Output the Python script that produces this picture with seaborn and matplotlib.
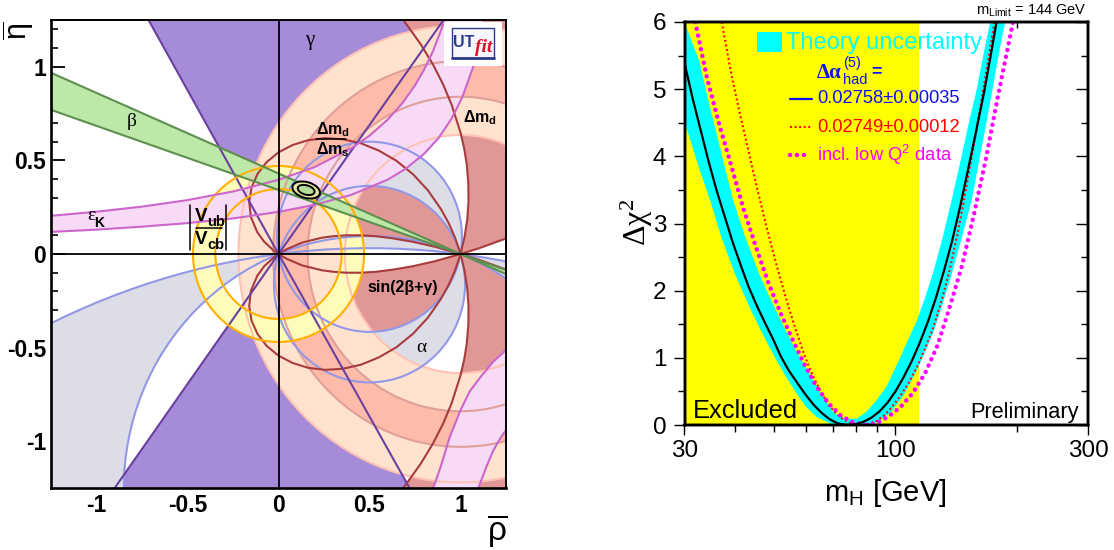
import matplotlib
matplotlib.use('Agg')
import matplotlib.pyplot as plt
import seaborn as sns
from matplotlib.lines import Line2D
from matplotlib.patches import Ellipse, PathPatch, Rectangle
from matplotlib.path import Path
from matplotlib.transforms import Affine2D

W, H = 1114, 550

# left panel, circles: centre rho, centre eta, radius
vub_circles = [(0, 0, 0.47), (0, 0, 0.347)]
dmd_circles = [(1, 0, 1.22), (1, 0, 0.636)]
dms_circles = [(1, 0, 1.03), (1, 0, 0.84)]
alpha_inner = [(0.5, 0.092, 0.508), (0.5, -0.161, 0.525)]
alpha_outer = [(0.5, -1.254, 1.35), (0.5, -3.986, 4.017)]

beta_rho = [-1.25, 1.0, 1.25]
beta_upper = [0.968, 0.0, -0.107]
beta_lower = [0.77, 0.0, -0.086]

gamma_top_rho = [-0.714, 0.0, 0.907]
gamma_top_eta = [1.25, 0.0, 1.25]
gamma_bot_rho = [-0.9, 0.0, 0.72]
gamma_bot_eta = [-1.25, 0.0, -1.25]

eps_up_rho = [-1.25, -1, -0.75, -0.5, -0.25, 0, 0.2, 0.4, 0.5, 0.6, 0.68, 0.75, 0.8, 0.85, 0.91, 0.93]
eps_up_eta = [0.204, 0.226, 0.253, 0.288, 0.334, 0.396, 0.465, 0.565, 0.632, 0.718, 0.805, 0.901, 0.985, 1.086, 1.239, 1.3]
eps_lo_rho = [-1.25, -1, -0.75, -0.5, -0.25, 0, 0.2, 0.4, 0.6, 0.7, 0.8, 0.88, 0.95, 1.01, 1.07, 1.13]
eps_lo_eta = [0.118, 0.13, 0.146, 0.165, 0.19, 0.225, 0.263, 0.316, 0.397, 0.456, 0.535, 0.62, 0.721, 0.838, 1.0, 1.24]
eps_br_out_rho = [0.85, 0.89, 0.94, 1.0, 1.05, 1.11, 1.18, 1.25]
eps_br_out_eta = [-1.25, -1.14, -0.98, -0.834, -0.735, -0.657, -0.575, -0.513]
eps_br_in_rho = [1.25, 1.215, 1.18, 1.145, 1.11, 1.09]
eps_br_in_eta = [-0.94, -0.99, -1.05, -1.13, -1.22, -1.27]

# sin(2beta+gamma) curves, upper half; the lower half is the mirror image
heart_rho = [0, -0.026, -0.079, -0.117, -0.152, -0.161, -0.148, -0.115, -0.065, 0, 0.077, 0.163,
             0.256, 0.354, 0.454, 0.552, 0.648, 0.739, 0.821, 0.893, 0.935, 0.971, 1]
heart_eta = [0, 0.018, 0.066, 0.117, 0.198, 0.279, 0.356, 0.428, 0.491, 0.543, 0.582, 0.608,
             0.619, 0.613, 0.591, 0.552, 0.498, 0.426, 0.34, 0.239, 0.165, 0.085, 0]
low_rho = [0, 0.043, 0.13, 0.238, 0.302, 0.372, 0.449, 0.536, 0.632, 0.74, 0.862, 1]
low_eta = [0, 0.025, 0.061, 0.087, 0.095, 0.1, 0.1, 0.095, 0.083, 0.065, 0.038, 0]
wing_rho = [1, 1.1, 1.192, 1.264]
wing_eta = [0, 0.03, 0.0625, 0.088]
big_rho = [1, 1.022, 1.037, 1.044, 1.043, 1.034, 1.02, 1, 0.951, 0.905, 0.849, 0.783, 0.706, 0.67]
big_eta = [0, 0.089, 0.183, 0.28, 0.38, 0.482, 0.565, 0.649, 0.798, 0.905, 1.012, 1.118, 1.223, 1.27]

fit_center = (0.152, 0.342)
fit_widths = [0.155, 0.095]
fit_heights = [0.085, 0.05]

rho_major = [-1, -0.5, 0, 0.5, 1]
rho_labels = ['-1', '-0.5', '0', '0.5', '1']
rho_minor = [-1.2, -1.1, -0.9, -0.8, -0.7, -0.6, -0.4, -0.3, -0.2, -0.1,
             0.1, 0.2, 0.3, 0.4, 0.6, 0.7, 0.8, 0.9, 1.1, 1.2]

# right panel
limit_mass = 114.4
black_m = [30, 31.4, 32.9, 34.4, 36, 37.8, 39.5, 41.4, 43.3, 45.3, 47.5, 49.8, 52, 54.4, 57.2, 59.9, 62.7, 65.6, 68.7, 71.9, 75.8,
           79.4, 83.2, 87.1, 91.2, 95.5, 100, 104.7, 109.7, 114.8, 120.2, 125.9, 131.8, 138, 144.6, 151.4, 158.5, 166, 173.8, 178]
black_chi = [5.39, 4.87, 4.39, 3.93, 3.5, 3.09, 2.72, 2.37, 2.05, 1.78, 1.52, 1.27, 1.02, 0.81, 0.62, 0.45, 0.3, 0.18, 0.085, 0.024, 0,
             0.01, 0.046, 0.108, 0.2, 0.33, 0.5, 0.71, 0.95, 1.22, 1.53, 1.89, 2.29, 2.73, 3.25, 3.81, 4.38, 4.97, 5.64, 6]
red_m = [37.1, 39.2, 41, 43, 45, 47.1, 49.3, 51.6, 54, 56.6, 59.3, 62.1, 65, 68.1, 71.3, 74.7, 78.3, 82,
         85.8, 89.8, 94, 98.4, 103, 107.9, 113, 118.3, 123.9, 129.7, 135.8, 142.2, 148.9, 155.9, 163.2, 176]
red_chi = [6, 5.22, 4.68, 4.14, 3.62, 3.13, 2.66, 2.22, 1.81, 1.42, 1.06, 0.76, 0.52, 0.31, 0.17, 0.07, 0.02, 0,
           0.015, 0.06, 0.15, 0.28, 0.44, 0.63, 0.86, 1.13, 1.44, 1.82, 2.27, 2.82, 3.45, 4.12, 4.82, 6]
pink_m = [31.9, 34.1, 36.6, 39.3, 42, 45.1, 48.4, 51.8, 55.5, 59.5, 63.6, 68.3, 73.2, 78.4, 84,
          90, 96.3, 103.2, 110.5, 118.4, 127, 136, 146, 156.3, 167.5, 179.5, 195.6]
pink_chi = [6, 5.17, 4.47, 3.83, 3.22, 2.65, 2.12, 1.68, 1.28, 0.9, 0.58, 0.32, 0.14, 0.04, 0,
            0.03, 0.13, 0.275, 0.48, 0.77, 1.18, 1.74, 2.36, 3.12, 3.96, 4.9, 6]
band_top_m = [30, 32.7, 34.4, 36, 37.8, 39.6, 42.4, 45.6, 47.5, 50.8, 53.3, 56.4, 59.9, 62.5, 65.6, 70, 72.5, 75, 80,
              84.8, 89.5, 95, 102.6, 107.5, 112.9, 118, 124, 131, 137.8, 145.8, 152, 159, 165, 171.6]
band_top_chi = [6, 5.4, 4.82, 4.35, 3.83, 3.35, 2.8, 2.3, 2.05, 1.68, 1.42, 1.13, 0.86, 0.67, 0.45, 0.2, 0.13, 0.1, 0.09,
                0.2, 0.36, 0.57, 1, 1.27, 1.55, 1.87, 2.27, 2.8, 3.35, 4, 4.5, 5, 5.5, 6]
band_low_m = [186.9, 180, 174, 168, 162, 154.5, 145, 136.5, 130, 124, 118, 113, 105, 97, 90, 84, 76, 69, 63.8, 60, 56.9,
              53.5, 50.3, 47, 43.5, 40, 37, 34.7, 32.5, 30.6, 30]
band_low_chi = [6, 5.5, 5, 4.5, 4, 3.35, 2.72, 2.16, 1.75, 1.37, 1.07, 0.82, 0.45, 0.18, 0.04, 0, 0, 0.02, 0.12, 0.27, 0.47,
                0.72, 1, 1.34, 1.75, 2.25, 2.8, 3.35, 3.85, 4.35, 4.5]

m_major = [30, 100, 300]
m_minor = [40, 50, 60, 70, 80, 90, 200]
m_labels = ['30', '100', '300']
chi_major = [0, 1, 2, 3, 4, 5, 6]
chi_minor = [0.5, 1.5, 2.5, 3.5, 4.5, 5.5]

sns.set_style('ticks', {'text.color': 'black', 'xtick.color': 'black', 'ytick.color': 'black',
                        'axes.edgecolor': 'black', 'axes.labelcolor': 'black'})
plt.rcParams['font.family'] = ['Liberation Sans', 'DejaVu Sans']
plt.rcParams['mathtext.default'] = 'regular'


def circle(c, flip=False):
    sx = -c[2] if flip else c[2]
    return Affine2D().scale(sx, c[2]).translate(c[0], c[1]).transform_path(Path.unit_circle())


def ring(ax, c1, c2, color, z):
    # opposite windings leave only what is in one circle and not the other
    path = Path.make_compound_path(circle(c1), circle(c2, flip=True))
    ax.add_patch(PathPatch(path, facecolor=color, edgecolor='none', zorder=z))


def outlines(ax, circles, color, z):
    for c in circles:
        ax.add_patch(PathPatch(circle(c), fill=False, edgecolor=color, linewidth=1.5, zorder=z))


def curve(ax, x, y, color, z, lw=1.5, **kw):
    sns.lineplot(x=x, y=y, sort=False, estimator=None, color=color, linewidth=lw,
                 ax=ax, zorder=z, legend=False, **kw)


def neg(values):
    return [-v for v in values]


fig = plt.figure(figsize=(W / 100, H / 100), dpi=100)


def put(x, y, s, **kw):
    kw.setdefault('ha', 'center')
    kw.setdefault('va', 'center')
    return fig.text(x / W, 1 - y / H, s, **kw)


def base(x, y, s, **kw):
    kw.setdefault('ha', 'left')
    return fig.text(x / W, 1 - y / H, s, va='baseline', **kw)


def rule(x0, y0, x1, y1, color='black', lw=1.1, **kw):
    fig.add_artist(Line2D([x0 / W, x1 / W], [1 - y0 / H, 1 - y1 / H], color=color, linewidth=lw, **kw))


ax = fig.add_axes([51 / W, (H - 488) / H, 455 / W, 468 / H])
ax.set_xlim(-1.25, 1.25)
ax.set_ylim(-1.25, 1.25)

purple, purple_line = '#A68BD8', '#6A40A0'
rose, rose_line = '#E29797', '#A83C3C'
grey, grey_line = '#DDDDE8', '#9298E6'
peach, peach_line = '#FFE3CF', '#FFC2B4'
salmon, salmon_line = '#FFBBAA', '#E0A09A'
yellow, yellow_line = '#FFFBBB', '#FFB000'
pink, pink_line = '#F6DAF6', '#CC66CC'
green, green_line = '#BDE8A8', '#5C8F50'

ax.fill(gamma_top_rho, gamma_top_eta, color=purple, lw=0, zorder=1)
ax.fill(gamma_bot_rho, gamma_bot_eta, color=purple, lw=0, zorder=1)

# rose regions of sin(2beta+gamma)
ax.fill(heart_rho + low_rho[::-1], heart_eta + low_eta[::-1], color=rose, lw=0, zorder=2)
ax.fill(heart_rho + low_rho[::-1], neg(heart_eta) + neg(low_eta[::-1]), color=rose, lw=0, zorder=2)
right_rho = big_rho + [1.3, 1.3] + wing_rho[::-1]
ax.fill(right_rho, big_eta + [1.3, 0.1] + wing_eta[::-1], color=rose, lw=0, zorder=2)
ax.fill(right_rho, neg(big_eta) + [-1.3, -0.1] + neg(wing_eta[::-1]), color=rose, lw=0, zorder=2)

ring(ax, alpha_inner[0], alpha_inner[1], grey, 3)
ring(ax, alpha_outer[0], alpha_outer[1], grey, 3)
ring(ax, dmd_circles[0], dmd_circles[1], peach, 4)
ring(ax, dms_circles[0], dms_circles[1], salmon, 5)
ring(ax, vub_circles[0], vub_circles[1], yellow, 6)
ax.fill(eps_up_rho + eps_lo_rho[::-1], eps_up_eta + eps_lo_eta[::-1], color=pink, lw=0, zorder=7)
ax.fill(eps_br_out_rho + eps_br_in_rho, eps_br_out_eta + eps_br_in_eta, color=pink, lw=0, zorder=7)
ax.fill(beta_rho + beta_rho[::-1], beta_upper + beta_lower[::-1], color=green, lw=0, zorder=8)

outlines(ax, dmd_circles, peach_line, 9)
outlines(ax, dms_circles, salmon_line, 9)
outlines(ax, alpha_inner + alpha_outer, grey_line, 10)
curve(ax, heart_rho, heart_eta, rose_line, 11)
curve(ax, heart_rho, neg(heart_eta), rose_line, 11)
curve(ax, low_rho + wing_rho[1:], low_eta + neg(wing_eta[1:]), rose_line, 11)
curve(ax, low_rho + wing_rho[1:], neg(low_eta) + wing_eta[1:], rose_line, 11)
curve(ax, big_rho, big_eta, rose_line, 11)
curve(ax, big_rho, neg(big_eta), rose_line, 11)
curve(ax, gamma_top_rho, gamma_top_eta, purple_line, 12)
curve(ax, gamma_bot_rho, gamma_bot_eta, purple_line, 12)
outlines(ax, vub_circles, yellow_line, 13)
curve(ax, eps_up_rho, eps_up_eta, pink_line, 13)
curve(ax, eps_lo_rho, eps_lo_eta, pink_line, 13)
curve(ax, eps_br_out_rho, eps_br_out_eta, pink_line, 13)
curve(ax, eps_br_in_rho, eps_br_in_eta, pink_line, 13)
curve(ax, beta_rho, beta_upper, green_line, 14)
curve(ax, beta_rho, beta_lower, green_line, 14)

ax.add_patch(Ellipse(fit_center, fit_widths[0], fit_heights[0], angle=-15, facecolor='#E4E8A0',
                     edgecolor='black', linewidth=1.4, zorder=15))
ax.add_patch(Ellipse(fit_center, fit_widths[1], fit_heights[1], angle=-15, facecolor='#B4DC9A',
                     edgecolor='black', linewidth=1.4, zorder=15))
ax.axhline(0, color='black', linewidth=1.3, zorder=16)
ax.axvline(0, color='black', linewidth=1.3, zorder=16)

ax.set_xticks(rho_major)
ax.set_yticks(rho_major)
ax.set_xticklabels(rho_labels)
ax.set_yticklabels(rho_labels)
ax.set_xticks(rho_minor, minor=True)
ax.set_yticks(rho_minor, minor=True)
ax.tick_params(which='major', direction='in', length=10, width=1.3, labelsize=16.5, zorder=20)
ax.tick_params(axis='y', which='major', pad=3.5)
ax.tick_params(axis='x', which='major', pad=4)
ax.tick_params(which='minor', direction='in', length=5, width=1.2, zorder=20)
for label in ax.get_xticklabels() + ax.get_yticklabels():
    label.set_fontweight('bold')
for side, lw in zip(['left', 'bottom', 'top', 'right'], [1.9, 1.9, 1.4, 1.4]):
    ax.spines[side].set_visible(True)
    ax.spines[side].set_linewidth(lw)
    ax.spines[side].set_zorder(25)

serif = ['Liberation Serif', 'DejaVu Serif']
put(310, 41, 'γ', family=serif, fontsize=15)
put(132, 122, 'β', family=serif, fontsize=14)
put(421, 348, 'α', family=serif, fontsize=14)
put(91, 216, 'ε', family=serif, fontsize=14)
put(99, 223, 'K', fontsize=10, fontweight='bold')
base(463, 122, 'Δm$_{d}$', fontsize=11.5, fontweight='bold')
base(316, 134, 'Δm$_{d}$', fontsize=11.5, fontweight='bold')
base(316, 154, 'Δm$_{s}$', fontsize=11.5, fontweight='bold')
base(367, 292, 'sin(2β+γ)', fontsize=11.5, fontweight='bold')
base(195, 221, 'V', fontsize=13.5, fontweight='bold')
base(207, 226, 'ub', fontsize=10.5, fontweight='bold')
base(195, 244, 'V', fontsize=13.5, fontweight='bold')
base(207, 249, 'cb', fontsize=10.5, fontweight='bold')
rule(196, 228, 222, 228)
rule(190, 205, 190, 250)
rule(226, 205, 226, 250)
rule(316, 139, 346, 139)

# UTfit logo
fig.add_artist(Rectangle((444 / W, 1 - 66 / H), 58 / W, 44 / H, facecolor='white', edgecolor='none',
                         transform=fig.transFigure))
fig.add_artist(Rectangle((452 / W, 1 - 58 / H), 42 / W, 30 / H, facecolor='#F6F6FC', edgecolor='#2B3A8C',
                         linewidth=1, transform=fig.transFigure))
rule(452, 58, 494, 58, color='#2B3A8C', lw=2)
base(453, 47, 'UT', color='#2B3A8C', fontsize=11.5, fontweight='bold')
base(475, 52, 'fit', color='#DD1122', family=serif, fontsize=14, fontweight='bold', fontstyle='italic')

put(19, 31, r'$\overline{\eta}$', fontsize=22, rotation=90)
put(497, 531, r'$\overline{\rho}$', fontsize=24)

# right panel
ax2 = fig.add_axes([684.5 / W, (H - 425) / H, 403.5 / W, 403 / H])
ax2.set_xscale('log')
ax2.axvspan(30, limit_mass, color='#FFFF00', lw=0, zorder=1)
ax2.fill(band_top_m + band_low_m, band_top_chi + band_low_chi, color='#00FFFF', lw=0, zorder=2)
curve(ax2, red_m, red_chi, '#FF0000', 3, lw=1.5, linestyle=(0, (0.9, 1.3)))
curve(ax2, pink_m, pink_chi, '#FF00FF', 4, lw=3.2, linestyle=(0, (0.01, 1.55)), dash_capstyle='round')
curve(ax2, black_m, black_chi, 'black', 5, lw=1.6)
ax2.set_xlim(30, 300)
ax2.set_ylim(0, 6)
ax2.set_xticks(m_major)
ax2.set_xticklabels(m_labels)
ax2.set_xticks(m_minor, minor=True)
ax2.set_xticklabels([''] * len(m_minor), minor=True)
ax2.set_yticks(chi_major)
ax2.set_yticks(chi_minor, minor=True)
ax2.tick_params(which='major', direction='out', length=8, width=1, labelsize=17.5, pad=5)
ax2.tick_params(which='minor', direction='out', length=5, width=1)
ax2.tick_params(axis='x', which='major', length=7, pad=3.5)

right = ax2.twinx()
right.set_ylim(0, 6)
right.set_yticks(chi_major)
right.set_yticks(chi_minor, minor=True)
right.tick_params(which='major', direction='in', length=9, width=1, labelright=False)
right.tick_params(which='minor', direction='in', length=5, width=1)
top = ax2.twiny()
top.set_xscale('log')
top.set_xlim(30, 300)
top.set_xticks([200])
top.set_xticks([], minor=True)
top.set_xticklabels([])
top.tick_params(which='major', direction='in', length=4, width=1)
for a in [ax2, right, top]:
    for side in ['left', 'bottom', 'top', 'right']:
        a.spines[side].set_visible(True)
        a.spines[side].set_linewidth(1.7)

fig.add_artist(Rectangle((757 / W, 1 - 52 / H), 25 / W, 20 / H, facecolor='#00FFFF', edgecolor='none',
                         transform=fig.transFigure))
put(786, 43, 'Theory uncertainty', color='#00FFFF', fontsize=17, ha='left')
blue = '#1010F0'
put(817, 73, 'Δα', color=blue, family=serif, fontsize=15, fontweight='bold', ha='left')
put(843, 63, '(5)', color=blue, fontsize=10.5, ha='left')
put(843, 80, 'had', color=blue, fontsize=10.5, ha='left')
put(871, 72, '=', color=blue, fontsize=13, fontweight='bold', ha='left')
rule(790, 99, 812, 99, color=blue, lw=1.6)
put(817, 99, '0.02758±0.00035', color=blue, fontsize=13.2, ha='left')
rule(790, 127, 812, 127, color='#FF0000', lw=1.5, linestyle=(0, (0.9, 1.3)))
put(817, 128, '0.02749±0.00012', color='#FF0000', fontsize=13.2, ha='left')
rule(790, 155, 808, 155, color='#FF00FF', lw=3.2, linestyle=(0, (0.01, 1.55)), dash_capstyle='round')
put(817, 155, 'incl. low Q$^{2}$ data', color='#FF00FF', fontsize=13.2, ha='left')

base(693, 418, 'Excluded', fontsize=18.4)
base(1079, 418, 'Preliminary', fontsize=15.7, ha='right')
put(1087, 11, 'm$_{Limit}$ = 144 GeV', fontsize=10.5, ha='right')
put(885, 493, 'm$_{H}$ [GeV]', fontsize=21)
put(637, 222, 'Δχ$^{2}$', family=serif, fontsize=23, rotation=90)

fig.savefig('out.png', dpi=100)
